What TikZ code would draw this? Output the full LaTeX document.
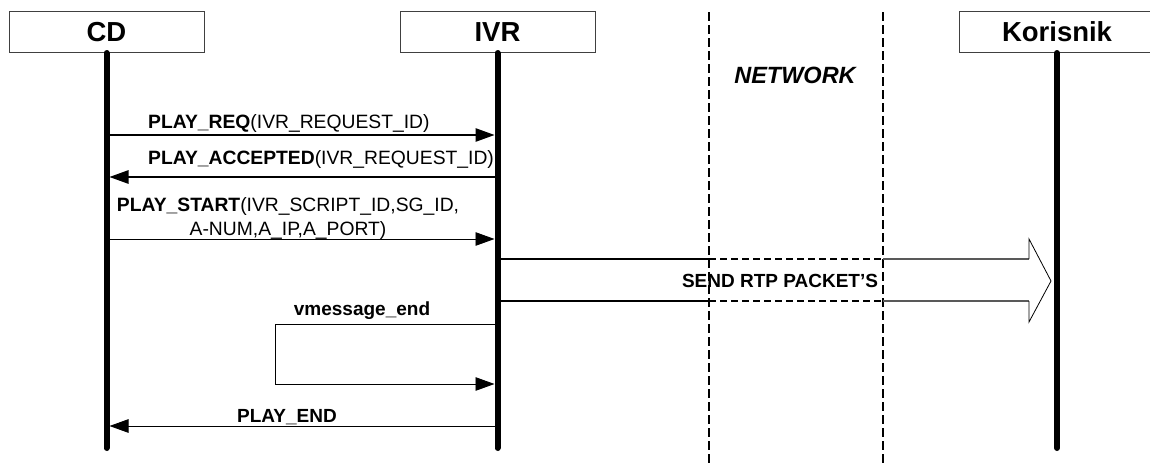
\documentclass[tikz,border=0pt]{standalone}
\usepackage{fontspec}
\setmainfont{Liberation Sans}
\usetikzlibrary{arrows.meta,positioning}

\begin{document}
\begin{tikzpicture}[x=1pt,y=-1pt,
	actor/.style={draw=black!75,line width=1pt,minimum width=195pt,minimum height=41pt,inner sep=0pt,font=\fontsize{27.5}{30}\selectfont\bfseries},
	life/.style={line width=6pt,line cap=round},
	msg/.style={line width=1.1pt,shorten >=3pt,-{Triangle[length=19pt,width=13.5pt]}},
	lbl/.style={inner sep=0pt,font=\fontsize{19.3}{24}\selectfont},
	netline/.style={line width=1.3pt,dash pattern=on 9pt off 4pt},
	body/.style={line width=1.1pt}]
	\clip (0,0) rectangle (1150,466);
	% actors
	\node[actor] (cd) at (106.5,32) {CD};
	\node[actor] (ivr) at (497.5,32) {IVR};
	\node[actor] (kor) at (1057,32) {Korisnik};
	\coordinate (bot) at (0,448);
	\draw[life] (cd.south) -- (cd.south |- bot);
	\draw[life] (ivr.south) -- (ivr.south |- bot);
	\draw[life] (kor.south) -- (kor.south |- bot);
	% network zone
	\coordinate (netl) at (709,12);
	\coordinate (netr) at (883,12);
	\draw[netline] (netl) -- (netl |- 0,466);
	\draw[netline] (netr) -- (netr |- 0,466);
	\node[lbl,anchor=base,font=\fontsize{23.5}{26}\selectfont\bfseries\itshape] (net) at (795,83) {NETWORK};
	% messages
	\coordinate (req) at (0,135);
	\coordinate (acc) at (0,177);
	\coordinate (start) at (0,239);
	\coordinate (pend) at (0,426);
	\draw[msg] (cd.south |- req) -- (ivr.south |- req);
	\node[lbl,anchor=base west] (reqlbl) at (148,128) {\textbf{PLAY\_REQ}(IVR\_REQUEST\_ID)};
	\draw[msg] (ivr.south |- acc) -- (cd.south |- acc);
	\node[lbl,anchor=base west] (acclbl) at (148,164) {\textbf{PLAY\_ACCEPTED}(IVR\_REQUEST\_ID)};
	\draw[msg,line width=0.9pt] (cd.south |- start) -- (ivr.south |- start);
	\node[lbl,anchor=base,align=center] (startlbl) at (288,235) {\textbf{PLAY\_START}(IVR\_SCRIPT\_ID,SG\_ID,\\A-NUM,A\_IP,A\_PORT)};
	% self message
	\coordinate (vcorner) at (275,324);
	\coordinate (vbot) at (0,384);
	\draw[msg,line width=0.9pt] (ivr.south |- vcorner) -- (vcorner) |- (ivr.south |- vbot);
	\node[lbl,anchor=base,font=\fontsize{19}{24}\selectfont\bfseries] (vlbl) at (362,315) {vmessage\_end};
	\draw[msg,line width=0.9pt] (ivr.south |- pend) -- (cd.south |- pend);
	\node[lbl,anchor=base,font=\fontsize{19}{24}\selectfont\bfseries] (endlbl) at (287,422) {PLAY\_END};
	% fat arrow
	\coordinate (ftop) at (0,259);
	\coordinate (fbot) at (0,301);
	\coordinate (tip) at (1051,281);
	\draw[body] (ivr.south |- ftop) -- (netl |- ftop);
	\draw[body] (ivr.south |- fbot) -- (netl |- fbot);
	\draw[body,dash pattern=on 7pt off 4pt] (netl |- ftop) -- (netr |- ftop);
	\draw[body,dash pattern=on 7pt off 4pt] (netl |- fbot) -- (netr |- fbot);
	\draw[body,black!65] (netr |- ftop) -- (1029,259);
	\draw[body,black!65] (netr |- fbot) -- (1029,301);
	\draw[line width=0.8pt,line join=miter] (1029,259) -- (1029,239) -- (tip) -- (1029,322) -- (1029,301);
	\node[lbl,font=\fontsize{19}{20}\selectfont\bfseries] (rtp) at (780,281) {SEND RTP PACKET'S};
\end{tikzpicture}
\end{document}
